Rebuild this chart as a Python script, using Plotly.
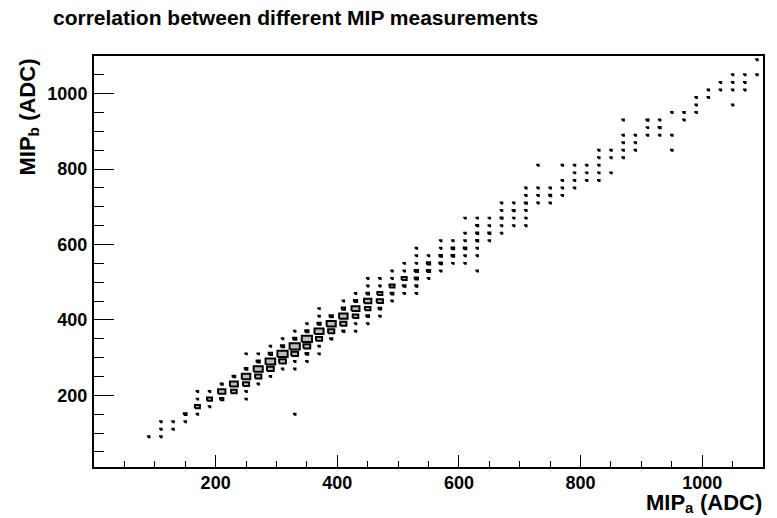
import plotly.graph_objects as go

# ---- data: 2D histogram (bin width 20 ADC), bin centres and contents ----
BIN = 20
mip_a = [
    90,
    110, 110, 110,
    130, 130,
    150, 150,
    170, 170, 170, 170,
    190, 190, 190,
    210, 210, 210,
    230, 230, 230,
    250, 250, 250, 250, 250, 250,
    270, 270, 270, 270, 270,
    290, 290, 290, 290, 290,
    310, 310, 310, 310, 310,
    330, 330, 330, 330, 330, 330, 330,
    350, 350, 350, 350, 350, 350,
    370, 370, 370, 370, 370, 370, 370,
    390, 390, 390, 390,
    410, 410, 410, 410, 410,
    430, 430, 430, 430, 430, 430,
    450, 450, 450, 450, 450, 450, 450,
    470, 470, 470, 470, 470, 470,
    490, 490, 490, 490, 490,
    510, 510, 510, 510, 510,
    530, 530, 530, 530, 530, 530, 530,
    550, 550, 550, 550,
    570, 570, 570, 570, 570,
    590, 590, 590, 590,
    610, 610, 610, 610, 610, 610,
    630, 630, 630, 630, 630, 630, 630,
    650, 650, 650, 650,
    670, 670, 670, 670, 670,
    690, 690, 690, 690,
    710, 710, 710, 710, 710, 710,
    730, 730, 730, 730,
    750, 750, 750,
    770, 770, 770, 770,
    790, 790, 790, 790,
    810, 810, 810,
    830, 830, 830, 830, 830,
    850, 850, 850,
    870, 870, 870, 870, 870,
    890, 890, 890,
    910, 910, 910,
    930, 930, 930,
    950, 950, 950,
    970, 970,
    990, 990, 990,
    1010, 1010,
    1030, 1030,
    1050, 1050, 1050, 1050,
    1070, 1070, 1070,
    1090, 1090,
]
mip_b = [
    90,
    90, 110, 130,
    110, 130,
    130, 150,
    150, 170, 190, 210,
    170, 190, 210,
    190, 210, 230,
    210, 230, 250,
    190, 210, 230, 250, 270, 310,
    230, 250, 270, 290, 310,
    250, 270, 290, 310, 330,
    270, 290, 310, 330, 350,
    150, 270, 290, 310, 330, 350, 370,
    290, 310, 330, 350, 370, 390,
    310, 330, 350, 370, 390, 410, 430,
    350, 370, 390, 410,
    370, 390, 410, 430, 450,
    370, 390, 410, 430, 450, 470,
    390, 410, 430, 450, 470, 490, 510,
    410, 430, 450, 470, 490, 510,
    450, 470, 490, 510, 530,
    470, 490, 510, 530, 550,
    470, 490, 510, 530, 550, 570, 590,
    510, 530, 550, 570,
    530, 550, 570, 590, 610,
    550, 570, 590, 610,
    550, 570, 590, 610, 630, 670,
    530, 570, 590, 610, 630, 650, 670,
    610, 630, 650, 670,
    630, 650, 670, 690, 710,
    650, 670, 690, 710,
    650, 670, 690, 710, 730, 750,
    710, 730, 750, 810,
    710, 730, 750,
    730, 750, 770, 810,
    750, 770, 790, 810,
    770, 790, 810,
    770, 790, 810, 830, 850,
    790, 830, 850,
    830, 850, 870, 890, 930,
    850, 870, 890,
    890, 910, 930,
    890, 910, 930,
    850, 890, 950,
    930, 950,
    950, 970, 990,
    990, 1010,
    1010, 1030,
    970, 1010, 1030, 1050,
    1010, 1030, 1050,
    1050, 1090,
]
counts = [
    1,
    1, 1, 1,
    1, 1,
    1, 3,
    1, 7, 1, 1,
    1, 7, 1,
    4, 11, 2,
    8, 12, 3,
    1, 1, 9, 13, 3, 1,
    1, 9, 14, 4, 1,
    1, 10, 15, 4, 1,
    1, 10, 16, 4, 1,
    1, 1, 1, 10, 16, 4, 1,
    1, 3, 10, 16, 4, 1,
    1, 1, 9, 14, 4, 1, 1,
    2, 9, 14, 4,
    2, 9, 13, 4, 1,
    1, 1, 8, 12, 4, 1,
    1, 3, 8, 11, 3, 1, 1,
    1, 3, 9, 7, 1, 1,
    1, 3, 7, 1, 1,
    1, 3, 7, 1, 1,
    1, 2, 4, 4, 1, 1, 1,
    1, 4, 4, 1,
    1, 3, 3, 1, 1,
    1, 3, 3, 1,
    1, 1, 3, 1, 1, 1,
    1, 1, 1, 2, 2, 2, 1,
    1, 2, 1, 1,
    1, 1, 2, 1, 1,
    1, 1, 2, 1,
    1, 1, 1, 2, 1, 1,
    1, 1, 1, 1,
    1, 2, 1,
    1, 1, 1, 1,
    1, 1, 1, 1,
    1, 1, 1,
    1, 1, 1, 1, 1,
    1, 1, 1,
    1, 1, 1, 1, 1,
    1, 1, 1,
    1, 1, 2,
    1, 2, 1,
    1, 1, 1,
    1, 1,
    1, 1, 1,
    1, 1,
    1, 1,
    1, 1, 1, 1,
    1, 1, 1,
    1, 1,
]

x_ticks = [200, 400, 600, 800, 1000]
y_ticks = [200, 400, 600, 800, 1000]

# ---- build box outlines (ROOT "BOX" draw option style) ----
cmax = max(counts)
bx, by = [], []
for a, b, c in zip(mip_a, mip_b, counts):
    h = BIN * (0.04 + 0.38 * c / cmax)
    bx += [a - h, a + h, a + h, a - h, a - h, None]
    by += [b - h, b - h, b + h, b + h, b - h, None]

fig = go.Figure()
fig.add_trace(go.Scatter(
    x=bx, y=by, mode="lines", fill="toself",
    fillcolor="#bebebe",
    line=dict(color="black", width=2, simplify=False),
    hoverinfo="skip", showlegend=False,
))

FONT = "Liberation Sans"
axis_common = dict(
    showgrid=False, zeroline=False,
    showline=True, mirror=True, linecolor="black", linewidth=2,
    ticks="inside", tickcolor="black", tickwidth=1,
    tickfont=dict(family=FONT, size=18, color="black", weight="bold"),
)
fig.update_xaxes(
    range=[0, 1100], tickvals=x_ticks, ticklen=12, ticklabelstandoff=-2,
    minor=dict(dtick=50, tick0=0, ticks="inside", ticklen=6,
               tickcolor="black", tickwidth=1),
    **axis_common,
)
fig.update_yaxes(
    range=[10, 1100], tickvals=y_ticks, ticklen=20, ticklabelstandoff=1,
    minor=dict(dtick=50, tick0=0, ticks="inside", ticklen=10,
               tickcolor="black", tickwidth=1),
    **axis_common,
)

tfont = dict(family=FONT, size=22, color="black", weight="bold")
sfont = dict(family=FONT, size=15, color="black", weight="bold")
fig.update_layout(
    width=777, height=518,
    margin=dict(l=94, r=14, t=56, b=51),
    paper_bgcolor="white", plot_bgcolor="white",
    title=dict(
        text="correlation between different MIP measurements",
        font=dict(family=FONT, size=21, color="black", weight="bold"),
        xref="container", x=53 / 777, xanchor="left",
        yref="container", y=1 - 18 / 518, yanchor="middle",
    ),
    annotations=[
        # x-axis title, right aligned at the end of the axis: "MIP_a (ADC)"
        dict(text="(ADC)", xref="paper", yref="paper", x=1, y=0,
             xanchor="right", yanchor="bottom", yshift=-49, borderpad=0,
             showarrow=False, font=tfont),
        dict(text="a", xref="paper", yref="paper", x=1, y=0,
             xanchor="right", yanchor="bottom", xshift=-68, yshift=-50,
             borderpad=0, showarrow=False, font=sfont),
        dict(text="MIP", xref="paper", yref="paper", x=1, y=0,
             xanchor="right", yanchor="bottom", xshift=-77, yshift=-49,
             borderpad=0, showarrow=False, font=tfont),
        # y-axis title, rotated, aligned to the top of the axis
        dict(text="MIP<sub>b</sub> (ADC)", xref="paper", yref="paper",
             x=0, y=1, xanchor="center", yanchor="top", xshift=-66, yshift=-1,
             textangle=-90, showarrow=False, font=tfont),
    ],
)

fig.write_html(
    "out.html",
    config={"displayModeBar": False},
    post_script="document.body.style.margin='0';document.body.style.padding='0';",
)
